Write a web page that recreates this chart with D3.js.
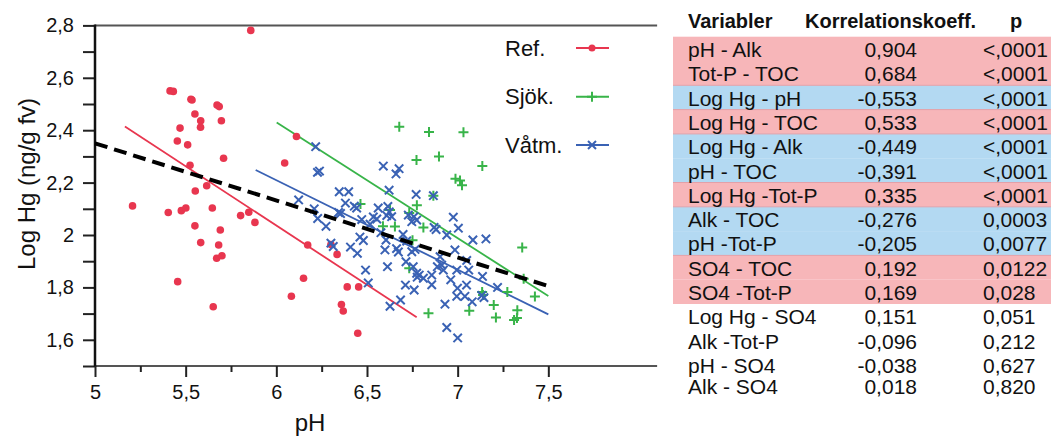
<!DOCTYPE html>
<html><head><meta charset="utf-8">
<script src="https://cdn.jsdelivr.net/npm/d3@7"></script>
<style>
html,body{margin:0;padding:0;background:#fff;}
svg{display:block;font-family:"Liberation Sans",Arial,Helvetica,sans-serif;}
</style></head>
<body>
<svg id="c" width="1051" height="436"></svg>
<script>
// ---------- DATA ----------
const refPH  = [5.859,5.414,5.432,5.529,5.535,5.551,5.673,5.685,5.583,5.697,5.469,5.582,5.454,5.511,5.709,5.524,5.616,5.553,6.046,6.111,5.207,5.404,5.476,5.501,5.647,5.803,5.848,5.882,5.551,5.583,5.691,5.682,5.671,5.700,5.456,5.652,6.173,6.301,6.335,6.150,6.083,6.391,6.454,6.359,6.369,6.449];
const refHg  = [2.781,2.550,2.548,2.518,2.515,2.462,2.496,2.490,2.436,2.436,2.408,2.411,2.359,2.344,2.293,2.266,2.188,2.168,2.275,2.376,2.111,2.086,2.093,2.103,2.103,2.074,2.087,2.048,2.035,1.971,2.019,1.962,1.911,1.921,1.822,1.726,1.962,1.964,1.926,1.835,1.766,1.802,1.802,1.735,1.710,1.625];
const sjokPH = [6.678,6.842,7.032,6.773,6.897,7.136,6.988,7.013,7.024,6.464,6.775,6.627,6.733,6.866,6.588,6.654,6.811,6.751,6.733,7.356,7.135,7.140,7.274,7.426,7.199,7.064,6.839,7.211,7.329,7.327,7.311,7.364];
const sjokHg = [2.413,2.393,2.392,2.286,2.300,2.263,2.215,2.208,2.190,2.118,2.114,2.095,2.084,2.150,2.033,2.032,2.029,1.980,1.873,1.952,1.782,1.771,1.782,1.765,1.733,1.711,1.701,1.685,1.713,1.683,1.676,1.833];
const vatmPH = [6.217,6.227,6.238,6.590,6.660,6.677,6.622,6.347,6.399,6.771,6.866,6.123,6.381,6.430,6.443,6.562,6.615,6.623,6.209,6.343,6.354,6.228,6.471,6.535,6.554,6.609,6.636,6.728,6.274,6.517,6.759,6.774,6.976,6.747,6.870,6.881,7.004,6.940,7.084,7.156,6.985,6.765,6.755,6.774,6.788,6.811,6.777,6.857,6.888,6.912,6.921,6.903,7.050,7.061,6.995,6.962,6.857,6.760,7.137,7.220,6.999,6.995,7.049,7.040,7.080,7.133,7.145,6.930,6.940,7.000,6.301,6.314,6.409,6.447,6.461,6.480,6.492,6.507,6.599,6.613,6.627,6.685,6.663,6.673,6.715,6.712,6.747,6.699,6.577,6.719,6.605];
const vatmHg = [2.337,2.239,2.244,2.263,2.233,2.253,2.171,2.165,2.165,2.155,2.150,2.134,2.122,2.110,2.103,2.103,2.109,2.088,2.100,2.086,2.082,2.063,2.059,2.069,2.061,2.074,2.070,2.076,2.033,2.041,2.070,2.057,2.068,2.051,2.029,2.021,2.026,2.000,1.981,1.985,1.943,1.945,1.879,1.854,1.847,1.835,1.839,1.847,1.879,1.885,1.866,1.917,1.903,1.866,1.866,1.829,1.810,1.790,1.842,1.800,1.797,1.766,1.809,1.766,1.745,1.769,1.761,1.736,1.647,1.607,1.969,1.956,1.954,1.930,1.992,1.979,1.866,1.817,1.943,1.879,1.728,1.752,1.948,1.935,1.898,1.809,1.936,2.002,2.009,1.977,1.981];
// regression lines: [pH, logHg] endpoints
const fitRef  = [[5.165,2.414],[6.774,1.686]];
const fitSjok = [[6.002,2.429],[7.5,1.767]];
const fitVatm = [[5.886,2.248],[7.5,1.697]];
const fitAll  = [[5.0,2.350],[7.5,1.805]];
const seriesNames = ["Ref.","Sjök.","Våtm."];
const xMajor = [5,5.5,6,6.5,7,7.5];
const xMinor = [5.25,5.75,6.25,6.75,7.25];
const yMajor = [1.6,1.8,2.0,2.2,2.4,2.6,2.8];
const yMinor = [1.5,1.7,1.9,2.1,2.3,2.5,2.7];
const xTitle = "pH";
const yTitle = "Log Hg (ng/g fv)";
// table
const tblHeader = ["Variabler","Korrelationskoeff.","p"];
const tblVars = ["pH - Alk","Tot-P - TOC","Log Hg - pH","Log Hg - TOC","Log Hg - Alk","pH - TOC","Log Hg -Tot-P","Alk - TOC","pH -Tot-P","SO4 - TOC","SO4 -Tot-P","Log Hg - SO4","Alk -Tot-P","pH - SO4","Alk - SO4"];
const tblCoef = ["0,904","0,684","-0,553","0,533","-0,449","-0,391","0,335","-0,276","-0,205","0,192","0,169","0,151","-0,096","-0,038","0,018"];
const tblP    = ["<,0001","<,0001","<,0001","<,0001","<,0001","<,0001","<,0001","0,0003","0,0077","0,0122","0,028","0,051","0,212","0,627","0,820"];
const tblSig  = ["pos","pos","neg","pos","neg","neg","pos","neg","neg","pos","pos","none","none","none","none"];

// ---------- STYLE ----------
const RED="#e8364f", GREEN="#38b449", BLUE="#3a62b4";
const PINK="#f7b6b9", LBLUE="#b3d9f2";

const svg = d3.select("#c");
const x = d3.scaleLinear().domain([5, 8.1]).range([95, 95 + 3.1*181.33]);
const y = d3.scaleLinear().domain([1.5, 2.8]).range([366, 25.4]);
const fmt = d => d3.format("~g")(d).replace(".", ",");

// frame lines
svg.append("line").attr("x1",x(5)).attr("x2",x(8.1)).attr("y1",y(2.8)).attr("y2",y(2.8)).attr("stroke","#555").attr("stroke-width",2);
svg.append("line").attr("x1",x(5)).attr("x2",x(8.1)).attr("y1",y(1.5)).attr("y2",y(1.5)).attr("stroke","#555").attr("stroke-width",2);

// y axis
const gy = svg.append("g").attr("transform",`translate(${x(5)},0)`);
gy.call(d3.axisLeft(y).tickValues(yMajor).tickSize(12).tickPadding(9).tickFormat(fmt));
gy.append("g").call(d3.axisLeft(y).tickValues(yMinor).tickSize(12).tickFormat(""));
gy.selectAll(".domain").remove();
gy.selectAll("line").attr("stroke","#222").attr("stroke-width",2);
gy.selectAll("text").attr("font-size",20).attr("fill","#111").attr("font-family","Liberation Sans, Arial, sans-serif");
svg.append("line").attr("x1",x(5)).attr("x2",x(5)).attr("y1",y(2.8)-1).attr("y2",y(1.5)+1).attr("stroke","#111").attr("stroke-width",2.5);

// x axis
const gx = svg.append("g").attr("transform",`translate(0,${y(1.5)})`);
gx.call(d3.axisBottom(x).tickValues(xMajor).tickSize(11).tickPadding(8).tickFormat(fmt));
gx.append("g").call(d3.axisBottom(x).tickValues(xMinor).tickSize(6).tickFormat(""));
gx.selectAll(".domain").remove();
gx.selectAll("line").attr("stroke","#222").attr("stroke-width",2);
gx.selectAll("text").attr("font-size",20).attr("fill","#111").attr("font-family","Liberation Sans, Arial, sans-serif");

// titles
svg.append("text").attr("x",310).attr("y",431).attr("text-anchor","middle").attr("font-size",24).attr("fill","#111").text(xTitle);
svg.append("text").attr("transform","translate(35,184) rotate(-90)").attr("text-anchor","middle").attr("font-size",24).attr("fill","#111").text(yTitle);

// fit lines
const line = d3.line().x(d=>x(d[0])).y(d=>y(d[1]));
svg.append("path").datum(fitRef).attr("d",line).attr("stroke",RED).attr("stroke-width",1.8).attr("fill","none");
svg.append("path").datum(fitSjok).attr("d",line).attr("stroke",GREEN).attr("stroke-width",1.8).attr("fill","none");
svg.append("path").datum(fitVatm).attr("d",line).attr("stroke",BLUE).attr("stroke-width",1.8).attr("fill","none");

// markers
const plusPath = s => `M${-s},0H${s}M0,${-s}V${s}`;
const crossPath = s => `M${-s},${-s}L${s},${s}M${-s},${s}L${s},${-s}`;

svg.append("g").selectAll("circle").data(d3.zip(refPH, refHg)).join("circle")
  .attr("cx",d=>x(d[0])).attr("cy",d=>y(d[1])).attr("r",3.8).attr("fill",RED);
svg.append("g").selectAll("path").data(d3.zip(sjokPH, sjokHg)).join("path")
  .attr("transform",d=>`translate(${x(d[0])},${y(d[1])})`).attr("d",plusPath(5))
  .attr("stroke",GREEN).attr("stroke-width",2).attr("fill","none");
svg.append("g").selectAll("path").data(d3.zip(vatmPH, vatmHg)).join("path")
  .attr("transform",d=>`translate(${x(d[0])},${y(d[1])})`).attr("d",crossPath(4.2))
  .attr("stroke",BLUE).attr("stroke-width",2).attr("fill","none");

// overall dashed fit
svg.append("path").datum(fitAll).attr("d",line).attr("stroke","#000").attr("stroke-width",4)
  .attr("stroke-dasharray","13,7").attr("fill","none");

// legend
const legY = [48, 96.7, 145];
const legCol = [RED, GREEN, BLUE];
seriesNames.forEach((n,i)=>{
  svg.append("text").attr("x",505).attr("y",legY[i]+7.5).attr("font-size",22).attr("fill","#111").text(n);
  svg.append("line").attr("x1",576).attr("x2",609).attr("y1",legY[i]).attr("y2",legY[i]).attr("stroke",legCol[i]).attr("stroke-width",2);
  const g = svg.append("g").attr("transform",`translate(592,${legY[i]})`);
  if(i===0) g.append("circle").attr("r",3.5).attr("fill",RED);
  if(i===1) g.append("path").attr("d",plusPath(5)).attr("stroke",GREEN).attr("stroke-width",2);
  if(i===2) g.append("path").attr("d",crossPath(4)).attr("stroke",BLUE).attr("stroke-width",2);
});

// table
const rowTop = 36.7, rowH = 24.3;
const tg = svg.append("g");
tblVars.forEach((v,i)=>{
  const top = rowTop + i*rowH;
  if(tblSig[i]!=="none"){
    tg.append("rect").attr("x",673).attr("y",top).attr("width",1051-673).attr("height",rowH)
      .attr("fill", tblSig[i]==="pos"?PINK:LBLUE);
  }
});
// thin separators between bands of different colour
tblVars.forEach((v,i)=>{
  if(i>0 && tblSig[i]!==tblSig[i-1] && tblSig[i]!=="none"){
    tg.append("line").attr("x1",673).attr("x2",1051).attr("y1",rowTop+i*rowH).attr("y2",rowTop+i*rowH)
      .attr("stroke","#e3a0a8").attr("stroke-width",1);
  }
});
tblVars.forEach((v,i)=>{
  const base = rowTop + i*rowH + 20.3 - (i===14?3:0);
  tg.append("text").attr("x",688).attr("y",base).attr("font-size",21).attr("fill","#111").text(v);
  tg.append("text").attr("x",917).attr("y",base).attr("font-size",21).attr("fill","#111").attr("text-anchor","end").text(tblCoef[i]);
  tg.append("text").attr("x",983).attr("y",base).attr("font-size",21).attr("fill","#111").text(tblP[i]);
});
tg.append("text").attr("x",688).attr("y",27.5).attr("font-size",20).attr("font-weight","bold").attr("fill","#111").text(tblHeader[0]);
tg.append("text").attr("x",805).attr("y",27.5).attr("font-size",20).attr("font-weight","bold").attr("fill","#111").text(tblHeader[1]);
tg.append("text").attr("x",1016).attr("y",27.5).attr("font-size",20).attr("font-weight","bold").attr("fill","#111").attr("text-anchor","middle").text(tblHeader[2]);
</script>
</body></html>
